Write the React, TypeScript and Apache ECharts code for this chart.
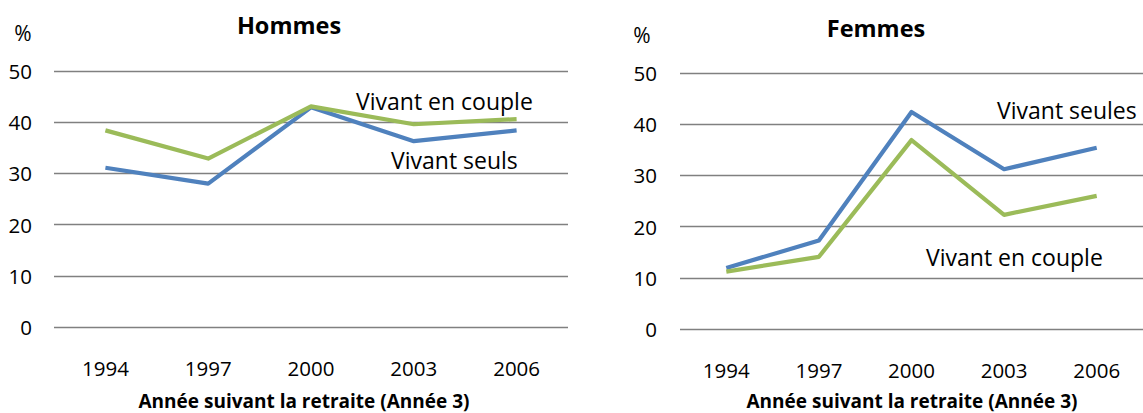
import React, { useEffect, useRef } from "react";
import * as echarts from "echarts";

const years = ["1994", "1997", "2000", "2003", "2006"];
const hommesSeuls = [31.1, 28.0, 42.9, 36.3, 38.4];
const hommesCouple = [38.4, 32.9, 43.1, 39.6, 40.6];
const femmesSeules = [11.9, 17.3, 42.4, 31.2, 35.4];
const femmesCouple = [11.2, 14.1, 36.9, 22.3, 26.0];

const BLUE = "#4F81BD";
const GREEN = "#9BBB59";
const FONT = "Open Sans";

export default function App() {
  const ref = useRef<HTMLDivElement>(null);
  useEffect(() => {
    if (!ref.current) return;
    const chart = echarts.init(ref.current, null, { renderer: "svg" });
    const yAxisBase = (gridIndex: number, margin: number) => ({
      type: "value" as const,
      gridIndex,
      min: 0,
      max: 50,
      interval: 10,
      axisLine: { show: false },
      axisTick: { show: false },
      splitLine: { lineStyle: { color: "#808080", width: 1.3 } },
      axisLabel: { color: "#000", fontFamily: FONT, fontSize: 20.5, margin },
    });
    const xAxisBase = (gridIndex: number) => ({
      type: "category" as const,
      gridIndex,
      data: years,
      boundaryGap: true,
      axisLine: { show: false },
      axisTick: { show: false },
      axisLabel: {
        color: "#000",
        fontFamily: FONT,
        fontSize: 20.5,
        margin: 41,
        verticalAlign: "middle",
      },
    });
    const lineSeries = (name: string, data: number[], color: string, idx: number) => ({
      type: "line" as const,
      name,
      data,
      xAxisIndex: idx,
      yAxisIndex: idx,
      symbol: "none",
      smooth: false,
      lineStyle: { color, width: 4.2, join: "round" },
      itemStyle: { color },
    });
    const txt = (
      text: string,
      x: number,
      y: number,
      size: number,
      bold = false,
      align = "center"
    ) => ({
      type: "text" as const,
      x,
      y,
      style: {
        text,
        fontFamily: FONT,
        fontSize: size,
        fontWeight: bold ? "bold" : "normal",
        fill: "#000",
        align,
        verticalAlign: "middle",
      },
    });
    chart.setOption({
      animation: false,
      grid: [
        { left: 54, top: 71, width: 514, height: 256 },
        { left: 680, top: 73, width: 481, height: 256 },
      ],
      xAxis: [xAxisBase(0), xAxisBase(1)],
      yAxis: [yAxisBase(0, 22), yAxisBase(1, 23)],
      series: [
        lineSeries("Vivant seuls", hommesSeuls, BLUE, 0),
        lineSeries("Vivant en couple", hommesCouple, GREEN, 0),
        lineSeries("Vivant seules", femmesSeules, BLUE, 1),
        lineSeries("Vivant en couple", femmesCouple, GREEN, 1),
      ],
      graphic: [
        txt("%", 23, 33, 21),
        txt("Hommes", 289, 25, 23.5, true),
        txt("Vivant en couple", 356, 101, 23, false, "left"),
        txt("Vivant seuls", 391, 160, 23, false, "left"),
        txt("Année suivant la retraite (Année 3)", 304, 401, 19, true),
        txt("%", 642, 35, 21),
        txt("Femmes", 876, 28, 23.5, true),
        txt("Vivant seules", 997, 110, 23, false, "left"),
        txt("Vivant en couple", 926, 257, 23, false, "left"),
        txt("Année suivant la retraite (Année 3)", 912, 401, 19, true),
      ],
    });
    return () => chart.dispose();
  }, []);
  return (
    <div
      ref={ref}
      style={{ position: "absolute", left: 0, top: 0, width: 1143, height: 413, background: "#fff" }}
    />
  );
}
